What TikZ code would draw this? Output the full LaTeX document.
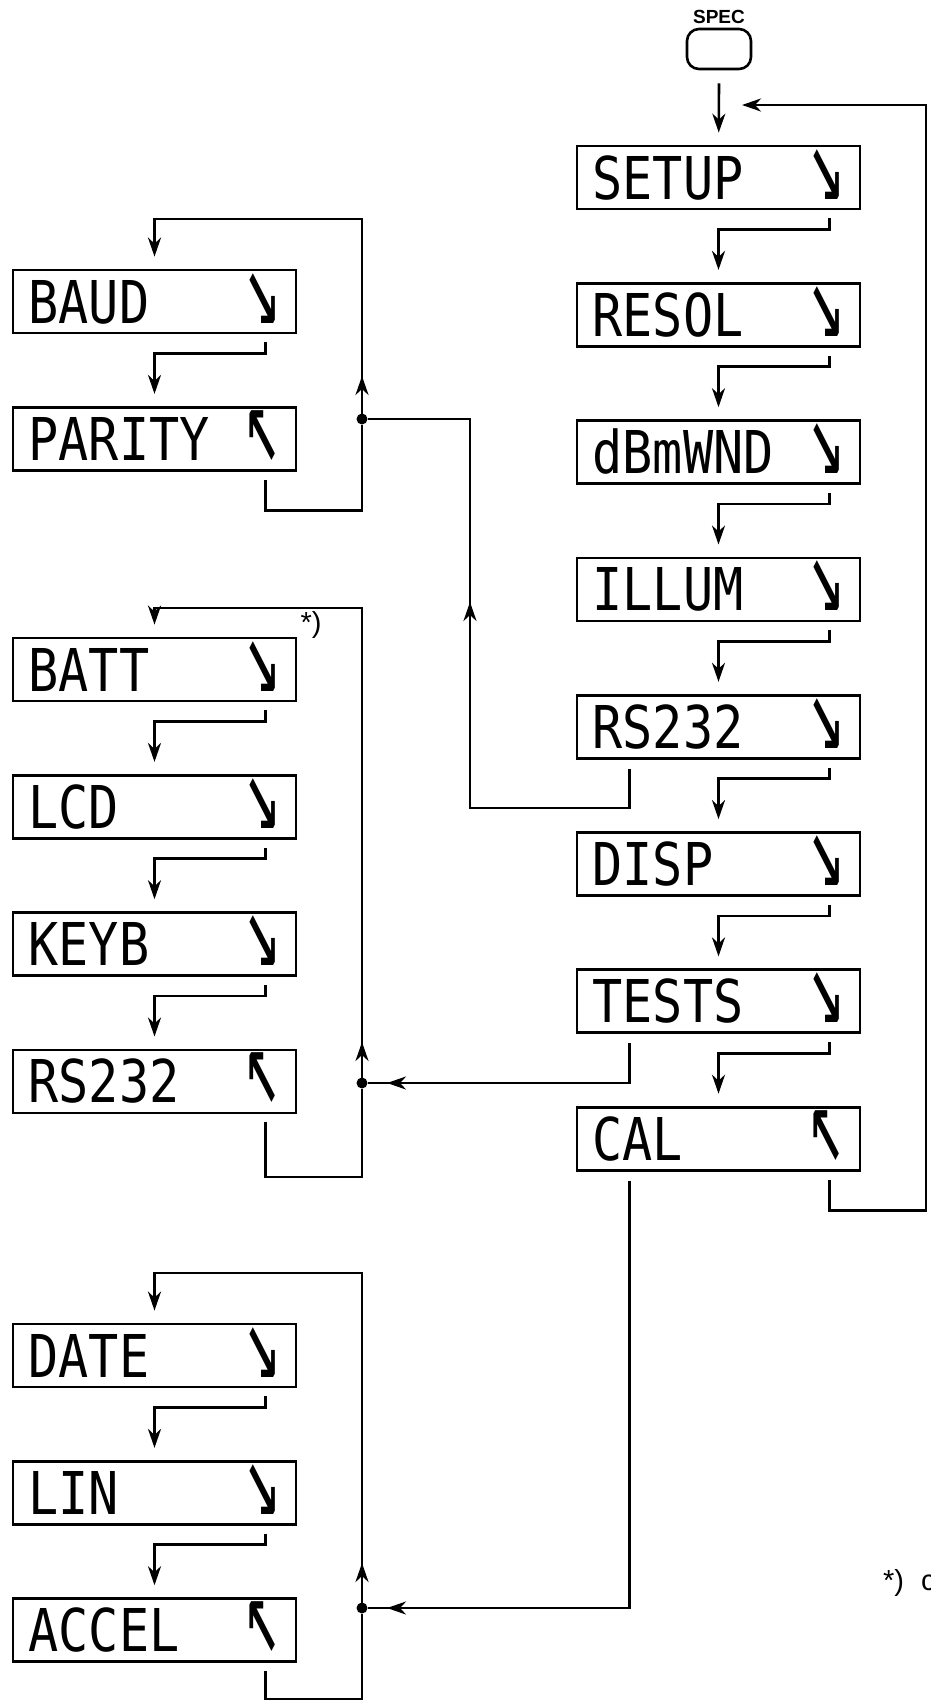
\documentclass[tikz,border=0pt]{standalone}
\usepackage{fontspec}
\setmainfont{Liberation Sans}
\newfontfamily\lcdfont[FakeStretch=0.85]{DejaVu Sans Mono}
\usetikzlibrary{positioning,arrows.meta,calc}

\newcommand{\lcdrow}[2]{\makebox[252pt]{#1\hfill#2}}
\newcommand{\arrdn}{\scalebox{1.2}[2.0]{↘}}
\newcommand{\arrup}{\scalebox{1.2}[2.0]{↖}}

\begin{document}
\begin{tikzpicture}[x=1pt, y=1pt,
      lcd/.style={draw, line width=2.8pt, minimum width=283pt, minimum height=63pt,
                  inner sep=0pt, text height=43pt, text depth=0pt,
                  font=\lcdfont\fontsize{59pt}{59pt}\selectfont},
      key/.style={draw, line width=2.6pt, rounded corners=12pt,
                  minimum width=64pt, minimum height=40pt},
      wire/.style={line width=2.6pt},
      flow/.style={wire, -{Stealth[length=19pt,width=13pt,inset=6pt]}},
      into/.style={flow, shorten >=12pt},
      jdot/.style={circle, fill, inner sep=0pt, minimum size=11pt},
      note/.style={font=\fontsize{29pt}{29pt}\selectfont, inner sep=1pt},
    ]
    \useasboundingbox (0,0) rectangle (930,-1701);
    \fill[white] (0,0) rectangle (930,-1701);
    % SPEC key and the main menu (right column)
    \node[key] (spec) at (719,-49) {};
    \node[above=4pt of spec, inner sep=0pt, font=\bfseries\fontsize{19pt}{19pt}\selectfont] (speclbl) {SPEC};
    \node[lcd] (setup) at (718.5,-177.5) {\lcdrow{SETUP}{\arrdn}};
    \node[lcd, below=71.5pt of setup] (resol) {\lcdrow{RESOL}{\arrdn}};
    \node[lcd, below=71.5pt of resol] (dbm) {\lcdrow{dBmWND}{\arrdn}};
    \node[lcd, below=71.5pt of dbm] (illum) {\lcdrow{ILLUM}{\arrdn}};
    \node[lcd, below=71.5pt of illum] (rsmain) {\lcdrow{RS232}{\arrdn}};
    \node[lcd, below=71.5pt of rsmain] (disp) {\lcdrow{DISP}{\arrdn}};
    \node[lcd, below=71.5pt of disp] (tests) {\lcdrow{TESTS}{\arrdn}};
    \node[lcd, below=71.5pt of tests] (cal) {\lcdrow{CAL}{\arrup}};
    % submenus (left column)
    \node[lcd] (baud) at (154.5,-301.5) {\lcdrow{BAUD}{\arrdn}};
    \node[lcd, below=71.5pt of baud] (parity) {\lcdrow{PARITY}{\arrup}};
    \node[lcd] (batt) at (154.5,-669.5) {\lcdrow{BATT}{\arrdn}};
    \node[lcd, below=71.5pt of batt] (lcdtest) {\lcdrow{LCD}{\arrdn}};
    \node[lcd, below=71.5pt of lcdtest] (keyb) {\lcdrow{KEYB}{\arrdn}};
    \node[lcd, below=71.5pt of keyb] (rsleft) {\lcdrow{RS232}{\arrup}};
    \node[lcd] (date) at (154.5,-1355.5) {\lcdrow{DATE}{\arrdn}};
    \node[lcd, below=71.5pt of date] (lin) {\lcdrow{LIN}{\arrdn}};
    \node[lcd, below=71.5pt of lin] (accel) {\lcdrow{ACCEL}{\arrup}};
    \node[note, anchor=west] (star) at ([xshift=2pt,yshift=12pt]batt.north east) {*)};
    \node[note, anchor=west] (foot) at (882,-1583) {*)\hspace{17pt}c};
    % junctions and corners of the loops
    \node[jdot] (j1) at (362,-419) {};
    \node[jdot] (j2) at (362,-1083) {};
    \node[jdot] (j3) at (362,-1608) {};
    \coordinate (t1) at (362,-219);
    \coordinate (t2) at (362,-608);
    \coordinate (t3) at (362,-1273);
    \coordinate (b2) at (362,-1177);
    \coordinate (b3) at (362,-1699);
    \coordinate (k1) at (470,-808);
    \coordinate (fb) at (926,-105);
    \coordinate (ret) at (742,-105);
    % main menu connectors
    \draw[into] ([yshift=-13pt]spec.south) -- (setup);
    \draw[into] ([xshift=-32pt,yshift=-8pt]setup.south east) -- ++(0,-11) -| (resol.north);
    \draw[into] ([xshift=-32pt,yshift=-8pt]resol.south east) -- ++(0,-11) -| (dbm.north);
    \draw[into] ([xshift=-32pt,yshift=-8pt]dbm.south east) -- ++(0,-11) -| (illum.north);
    \draw[into] ([xshift=-32pt,yshift=-8pt]illum.south east) -- ++(0,-11) -| (rsmain.north);
    \draw[into] ([xshift=-32pt,yshift=-8pt]rsmain.south east) -- ++(0,-11) -| (disp.north);
    \draw[into] ([xshift=-32pt,yshift=-8pt]disp.south east) -- ++(0,-11) -| (tests.north);
    \draw[into] ([xshift=-32pt,yshift=-8pt]tests.south east) -- ++(0,-11) -| (cal.north);
    \draw[flow] ([xshift=-32pt,yshift=-8pt]cal.south east) -- ++(0,-31) -| (fb) -- (ret);
    % BAUD / PARITY loop
    \draw[into] ([xshift=-32pt,yshift=-8pt]baud.south east) -- ++(0,-11) -| (parity.north);
    \draw[wire] ([xshift=-32pt,yshift=-8pt]parity.south east) -- ++(0,-31) -| (j1);
    \draw[into] (j1) -- (t1) -| (baud.north);
    \draw[flow] (j1.center) -- ++(0,43);
    \draw[wire] ([xshift=54pt,yshift=-9pt]rsmain.south west) |- (k1) |- (j1);
    \draw[flow] (k1) -- ++(0,206);
    % BATT / LCD / KEYB / RS232 loop
    \draw[into] ([xshift=-32pt,yshift=-8pt]batt.south east) -- ++(0,-11) -| (lcdtest.north);
    \draw[into] ([xshift=-32pt,yshift=-8pt]lcdtest.south east) -- ++(0,-11) -| (keyb.north);
    \draw[into] ([xshift=-32pt,yshift=-8pt]keyb.south east) -- ++(0,-11) -| (rsleft.north);
    \draw[wire] ([xshift=-32pt,yshift=-8pt]rsleft.south east) |- (b2) -- (j2);
    \draw[into] (j2) -- (t2) -| (batt.north);
    \draw[flow] (j2.center) -- ++(0,41);
    \draw[wire] ([xshift=54pt,yshift=-9pt]tests.south west) |- (j2);
    \draw[flow] ([xshift=60pt]j2.center) -- ([xshift=25pt]j2.center);
    % DATE / LIN / ACCEL loop
    \draw[into] ([xshift=-32pt,yshift=-8pt]date.south east) -- ++(0,-11) -| (lin.north);
    \draw[into] ([xshift=-32pt,yshift=-8pt]lin.south east) -- ++(0,-11) -| (accel.north);
    \draw[wire] ([xshift=-32pt,yshift=-8pt]accel.south east) |- (b3) -- (j3);
    \draw[into] (j3) -- (t3) -| (date.north);
    \draw[flow] (j3.center) -- ++(0,45);
    \draw[wire] ([xshift=54pt,yshift=-9pt]cal.south west) |- (j3);
    \draw[flow] ([xshift=60pt]j3.center) -- ([xshift=25pt]j3.center);
  \end{tikzpicture}
\end{document}
